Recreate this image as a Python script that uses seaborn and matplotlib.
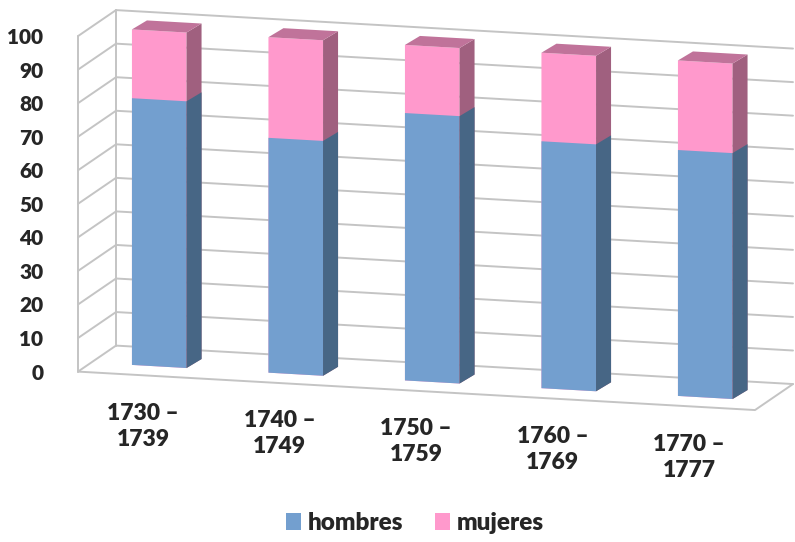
# -*- coding: utf-8 -*-

import matplotlib
matplotlib.use("Agg")
import matplotlib.pyplot as plt
import matplotlib.transforms as mtransforms
from matplotlib.patches import Polygon, Patch
from matplotlib.lines import Line2D
import numpy as np
import pandas as pd
import seaborn as sns


# data (percent of each decade)
periodos = ["1730 –\n1739", "1740 –\n1749", "1750 –\n1759", "1760 –\n1769", "1770 –\n1777"]
hombres = [79.5, 70.0, 79.7, 73.6, 73.3]
mujeres = [20.5, 30.0, 20.3, 26.4, 26.7]
series = ["hombres", "mujeres"]
yticks = list(range(0, 101, 10))

front_col = {"hombres": "#739fcf", "mujeres": "#ff99cc"}
side_col = {"hombres": "#476685", "mujeres": "#a0607f"}
top_col = {"hombres": "#5b84b0", "mujeres": "#c0739a"}
grid_col = "#c4c4c4"
WEIGHT = "heavy"


def main():
    sns.set_theme(style="white")
    plt.rcParams["font.family"] = ["Lato", "DejaVu Sans"]
    plt.rcParams["font.weight"] = WEIGHT

    df = pd.DataFrame({"periodo": periodos, "hombres": hombres, "mujeres": mujeres})
    df["total"] = df["hombres"] + df["mujeres"]

    W, H = 795, 542
    fig = plt.figure(figsize=(W / 100, H / 100), dpi=100)
    x0 = 91.0          # left of the bar plane, px
    y0 = H - 362.6     # zero line at x0, px from bottom
    ax = fig.add_axes([x0 / W, y0 / H, 682.5 / W, 335.5 / H])

    # stacked bars: total (pink) under hombres (blue)
    sns.barplot(data=df, x="periodo", y="total", color=front_col["mujeres"],
                saturation=1, width=0.4, linewidth=0, ax=ax)
    sns.barplot(data=df, x="periodo", y="hombres", color=front_col["hombres"],
                saturation=1, width=0.4, linewidth=0, ax=ax)
    ax.set_xlim(-0.5, 4.5)
    ax.set_ylim(0, 100)

    # slight slope like the perspective of the original
    k = 0.0568
    shear = mtransforms.Affine2D(np.array([[1, 0, 0], [-k, 1, k * x0], [0, 0, 1]]))
    tr = ax.transData + shear
    ident = mtransforms.IdentityTransform()

    front_off = np.array([-13, -9])
    back_off = np.array([25, 17])
    depth = np.array([15, 9])

    def disp(x, y, off=(0, 0)):
        return tr.transform((x, y)) + np.array(off)

    # back wall gridlines + left wall
    x_end = -0.5 + (768 - x0) / 136.5
    for v in yticks:
        a = disp(-0.5, v, back_off)
        b = disp(x_end, v, back_off)
        ax.add_line(Line2D([a[0], b[0]], [a[1], b[1]], transform=ident,
                           color=grid_col, lw=1.4, zorder=0.5, clip_on=False))
        f = disp(-0.5, v, front_off)
        ax.add_line(Line2D([f[0], a[0]], [f[1], a[1]], transform=ident,
                           color=grid_col, lw=1.4, zorder=0.5, clip_on=False))
    for off in (front_off, back_off):
        a = disp(-0.5, 0, off)
        b = disp(-0.5, 100, off)
        ax.add_line(Line2D([a[0], b[0]], [a[1], b[1]], transform=ident,
                           color=grid_col, lw=1.4, zorder=0.5, clip_on=False))
    # floor
    fl = disp(-0.5, 0, front_off)
    fr = disp(x_end, 0, front_off)
    br = disp(x_end, 0, back_off)
    ax.add_line(Line2D([fl[0], fr[0], br[0]], [fl[1], fr[1], br[1]], transform=ident,
                       color=grid_col, lw=1.4, zorder=0.5, clip_on=False))

    # bars: shear the fronts, add side and top faces
    n = len(periodos)
    patches = list(ax.patches)
    for j, p in enumerate(patches):
        name = "mujeres" if j < n else "hombres"
        p.set_transform(tr)
        p.set_clip_on(False)
        p.set_zorder(2)
        x, y = p.get_x(), p.get_y()
        w, h = p.get_width(), p.get_height()
        rb = disp(x + w, y)
        rt = disp(x + w, y + h)
        lt = disp(x, y + h)
        side = Polygon([rb, rt, rt + depth, rb + depth], closed=True, transform=ident,
                       facecolor=side_col[name], edgecolor="none", zorder=2, clip_on=False)
        ax.add_patch(side)
        if name == "mujeres":
            top = Polygon([lt, rt, rt + depth, lt + depth], closed=True, transform=ident,
                          facecolor=top_col[name], edgecolor="none", zorder=2, clip_on=False)
            ax.add_patch(top)

    ax.set_xlim(-0.5, 4.5)
    ax.set_ylim(0, 100)
    for s in ax.spines.values():
        s.set_visible(False)

    # y labels at the front edge
    ax.set_yticks(yticks)
    ax.set_yticklabels([str(v) for v in yticks], fontsize=15, fontweight=WEIGHT)
    ax.tick_params(axis="y", length=0, pad=25)
    ax.set_ylabel("")
    for lab in ax.get_yticklabels():
        lab.set_transform(lab.get_transform() + mtransforms.ScaledTranslation(
            front_off[0] / 100, front_off[1] / 100, fig.dpi_scale_trans))

    # x labels follow the floor slope
    ax.set_xticks(range(n))
    ax.set_xticklabels(periodos, fontsize=16.5, fontweight=WEIGHT, linespacing=1.3)
    ax.tick_params(axis="x", length=0, pad=26)
    ax.set_xlabel("")
    for i, lab in enumerate(ax.get_xticklabels()):
        xd = ax.transData.transform((i, 0))[0]
        dy = -k * (xd - x0)
        lab.set_transform(lab.get_transform() + mtransforms.ScaledTranslation(
            -16 / 100, dy / 100, fig.dpi_scale_trans))

    handles = [Patch(facecolor=front_col[s], edgecolor="none") for s in series]
    fig.legend(handles, series, loc="center", bbox_to_anchor=(415 / W, 1 - 523 / H),
               ncol=2, frameon=False, prop={"size": 17.5, "weight": WEIGHT},
               handlelength=0.6, handleheight=0.75, handletextpad=0.3, columnspacing=1.3)

    fig.savefig("out.png", dpi=100)


if __name__ == "__main__":
    main()
